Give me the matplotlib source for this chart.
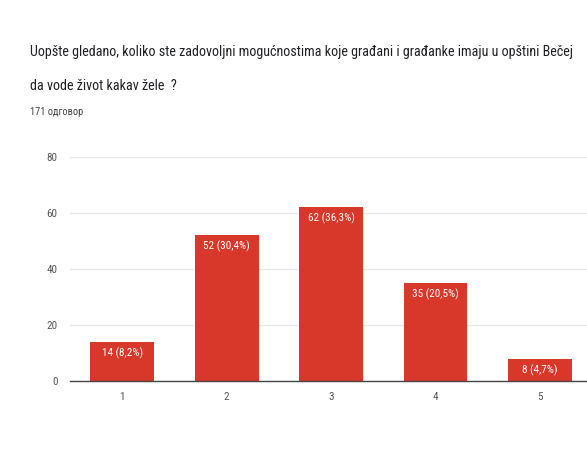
import matplotlib
matplotlib.use("Agg")
import matplotlib.pyplot as plt

categories = ["1", "2", "3", "4", "5"]
counts = [14, 52, 62, 35, 8]
percents = ["8,2%", "30,4%", "36,3%", "20,5%", "4,7%"]
yticks = [0, 20, 40, 60, 80]
title_lines = ["Uopšte gledano, koliko ste zadovoljni mogućnostima koje građani i građanke imaju u opštini Bečej",
               "da vode život kakav žele  ?"]
subtitle = "171 одговор"

FONT = ["Roboto Condensed", "DejaVu Sans"]
W, H = 587, 468
fig = plt.figure(figsize=(W/100, H/100), dpi=100)
fig.patch.set_facecolor("white")

ax = fig.add_axes([70/W, 1-381/H, 1-70/W, (381-157)/H])
x = list(range(1, len(categories)+1))
ax.bar(x, counts, width=0.61, color="#d8382a", zorder=3)
for xi, c, p in zip(x, counts, percents):
    ax.text(xi, c - 2.0, f"{c} ({p})", ha="center", va="top", color="white",
            fontsize=8, family=FONT, zorder=4)

ax.set_xlim(0.5, 5.45)
ax.set_ylim(0, 80)
ax.set_yticks(yticks)
ax.set_yticklabels([str(v) for v in yticks], fontsize=8, color="#555555", family=FONT)
ax.set_xticks(x)
ax.set_xticklabels(categories, fontsize=8, color="#555555", family=FONT)
ax.tick_params(axis="y", length=0, pad=9)
ax.tick_params(axis="x", length=0, pad=8)
ax.grid(axis="y", color="#e6e6e6", linewidth=0.9, zorder=0)
for s in ["top", "right", "left"]:
    ax.spines[s].set_visible(False)
ax.spines["bottom"].set_color("#444444")
ax.spines["bottom"].set_linewidth(1.0)
ax.spines["bottom"].set_zorder(5)

fig.text(30/W, 1-52/H, title_lines[0], fontsize=10.2, color="#202124", family=FONT, va="center")
fig.text(30/W, 1-86/H, title_lines[1], fontsize=10.2, color="#202124", family=FONT, va="center")
fig.text(30/W, 1-112/H, subtitle, fontsize=7.5, color="#444444", family=FONT, va="center")

fig.savefig("out.png", dpi=100)
